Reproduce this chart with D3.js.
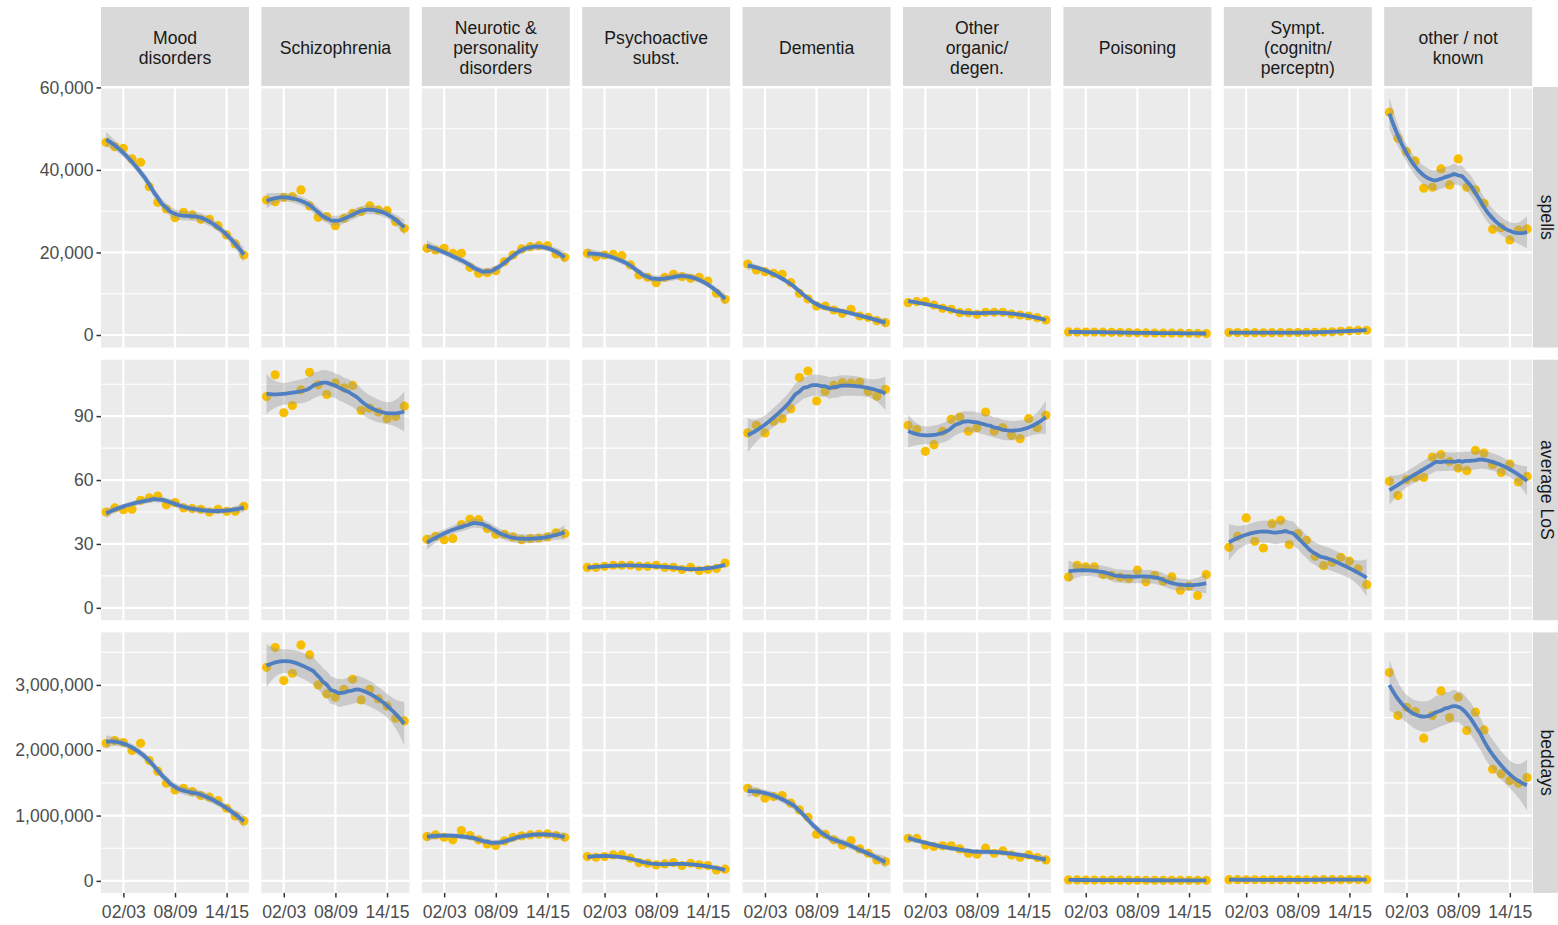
<!DOCTYPE html>
<html>
<head>
<meta charset="utf-8">
<script src="https://cdn.jsdelivr.net/npm/d3@7"></script>
<style>
  body { margin: 0; background: #fff; }
  text { font-family: "Liberation Sans", Arial, sans-serif; }
</style>
</head>
<body>
<div id="chart"></div>
<script>
// Facet grid: diagnosis (columns) x measure (rows), points + loess smooth

var years = ["00/01", "01/02", "02/03", "03/04", "04/05", "05/06", "06/07", "07/08", "08/09",
             "09/10", "10/11", "11/12", "12/13", "13/14", "14/15", "15/16", "16/17"];
var xTickLabels = ["02/03", "08/09", "14/15"];

var diagnoses = ["Mood\ndisorders", "Schizophrenia", "Neurotic &\npersonality\ndisorders",
                 "Psychoactive\nsubst.", "Dementia", "Other\norganic/\ndegen.", "Poisoning",
                 "Sympt.\n(cognitn/\nperceptn)", "other / not\nknown"];
var measures = ["spells", "average LoS", "beddays"];

// one row per diagnosis, in the order above
var spellsData = [
    [46700, 45650, 45250, 42660, 41860, 35950, 32160, 30540, 28440, 29740, 29090, 28040, 28040, 26500, 24240, 22060, 19390],
    [32720, 32310, 33370, 33530, 35150, 31270, 28520, 28680, 26500, 28280, 29500, 29900, 31270, 30300, 30130, 27470, 25860],
    [21010, 20600, 21010, 19800, 19800, 16400, 14950, 15100, 15590, 17770, 19390, 20850, 21400, 21650, 21650, 19630, 18830],
    [19800, 18990, 19390, 19560, 19230, 16970, 14540, 13980, 12680, 13980, 14710, 14130, 13740, 13980, 13090, 10100, 8650],
    [17210, 15760, 15350, 14950, 14710, 12680, 10100, 8730, 7030, 7030, 6060, 5250, 6230, 4600, 4290, 3470, 2980],
    [7830, 8070, 8070, 7270, 6470, 6230, 5410, 5410, 5010, 5500, 5500, 5500, 5090, 4850, 4600, 4200, 3640],
    [750, 720, 700, 700, 680, 650, 600, 560, 520, 500, 480, 470, 450, 430, 400, 380, 350],
    [600, 580, 560, 560, 550, 560, 570, 580, 600, 620, 650, 700, 780, 900, 1000, 1100, 1150],
    [53980, 47660, 44430, 42180, 35560, 35800, 40240, 36360, 42660, 35800, 35150, 31920, 25620, 26010, 23030, 25450, 25700]
];
var losData = [
    [45.0, 46.9, 46.1, 46.25, 50.5, 51.6, 52.5, 48.4, 49.4, 46.9, 46.6, 46.25, 45.0, 46.25, 45.3, 45.3, 47.7],
    [99.2, 109.4, 91.6, 95.0, 102.3, 110.6, 104.7, 100.2, 105.6, 103.3, 104.4, 92.7, 93.8, 91.9, 88.8, 89.8, 94.7],
    [32.2, 33.6, 32.0, 32.5, 39.1, 41.6, 41.4, 37.2, 34.5, 34.5, 33.3, 32.0, 32.5, 32.8, 33.3, 35.2, 34.8],
    [19.0, 19.0, 19.5, 20.0, 20.0, 20.0, 19.5, 19.5, 20.0, 19.0, 19.0, 18.0, 19.0, 17.5, 18.0, 18.5, 21.0],
    [82.1, 85.7, 82.1, 87.6, 88.8, 93.5, 108.1, 111.2, 97.1, 101.6, 104.4, 105.7, 105.5, 106.0, 101.6, 99.4, 102.6],
    [85.7, 83.7, 73.5, 76.6, 82.9, 88.5, 89.6, 82.9, 84.6, 91.9, 83.0, 84.6, 81.0, 79.4, 88.8, 84.6, 90.4],
    [14.5, 20.0, 19.2, 19.2, 15.6, 15.2, 14.4, 13.75, 17.7, 12.2, 15.3, 12.5, 14.5, 8.3, 10.2, 5.8, 15.6],
    [28.4, 33.6, 42.2, 31.25, 28.1, 39.5, 41.1, 29.7, 34.8, 31.7, 24.2, 19.8, 21.4, 23.75, 21.9, 18.3, 10.9],
    [59.4, 52.7, 60.2, 61.25, 61.25, 70.8, 71.9, 68.75, 65.6, 64.4, 73.9, 72.7, 67.2, 63.6, 67.5, 59.1, 61.7]
];
var beddaysData = [
    [2107000, 2148000, 2117000, 1995000, 2107000, 1842000, 1679000, 1495000, 1393000, 1418000, 1367000, 1306000, 1281000, 1230000, 1112000, 995000, 918000],
    [3270000, 3571000, 3066000, 3179000, 3612000, 3459000, 3000000, 2862000, 2811000, 2934000, 3087000, 2770000, 2934000, 2786000, 2679000, 2490000, 2449000],
    [679000, 704000, 668000, 628000, 770000, 694000, 628000, 566000, 541000, 612000, 668000, 689000, 704000, 714000, 719000, 694000, 668000],
    [372000, 362000, 372000, 398000, 398000, 347000, 281000, 270000, 245000, 260000, 281000, 235000, 270000, 245000, 235000, 168000, 179000],
    [1418000, 1352000, 1265000, 1291000, 1306000, 1189000, 1087000, 974000, 714000, 714000, 628000, 551000, 617000, 490000, 423000, 321000, 296000],
    [653000, 653000, 551000, 526000, 536000, 536000, 490000, 423000, 408000, 500000, 423000, 459000, 398000, 362000, 398000, 357000, 321000],
    [14000, 14000, 13000, 13000, 12000, 12000, 11000, 11000, 10000, 10000, 10000, 9000, 9000, 9000, 8000, 8000, 8000],
    [18000, 18000, 17000, 17000, 17000, 16000, 16000, 16000, 16000, 17000, 17000, 18000, 18000, 19000, 20000, 20000, 19000],
    [3189000, 2531000, 2658000, 2592000, 2184000, 2531000, 2908000, 2500000, 2811000, 2301000, 2582000, 2311000, 1709000, 1638000, 1536000, 1495000, 1582000]
];

var spellsTicks = [0, 20000, 40000, 60000];
var losTicks = [0, 30, 60, 90];
var beddaysTicks = [0, 1000000, 2000000, 3000000];

var rowData = [spellsData, losData, beddaysData];
var rowTicks = [spellsTicks, losTicks, beddaysTicks];
var rowDomains = [[-3030, 60100], [-5.8, 116.5], [-184000, 3804000]];

// ---- loess (degree 2, tricube, span .75) with pointwise 95% band ----
function loessRow(xs, x0, span) {
    var n = xs.length, q = Math.floor(n * span);
    var d = xs.map(function (x) { return Math.abs(x - x0); });
    var h = d.slice().sort(function (a, b) { return a - b; })[q - 1];
    var w = d.map(function (di) { var u = di / h; return u < 1 ? Math.pow(1 - u * u * u, 3) : 0; });
    var M = [[0, 0, 0], [0, 0, 0], [0, 0, 0]];
    var V = xs.map(function (x) { var t = x - x0; return [1, t, t * t]; });
    for (var i = 0; i < n; i++)
        for (var a = 0; a < 3; a++)
            for (var b = 0; b < 3; b++)
                M[a][b] += w[i] * V[i][a] * V[i][b];
    var inv = invert3(M);
    return V.map(function (v, i) {
        return w[i] * (inv[0][0] * v[0] + inv[0][1] * v[1] + inv[0][2] * v[2]);
    });
}

function invert3(m) {
    var a = m[0][0], b = m[0][1], c = m[0][2], d = m[1][0], e = m[1][1], f = m[1][2],
        g = m[2][0], h = m[2][1], k = m[2][2];
    var A = e * k - f * h, B = -(d * k - f * g), C = d * h - e * g;
    var det = a * A + b * B + c * C;
    return [
        [A / det, -(b * k - c * h) / det, (b * f - c * e) / det],
        [B / det, (a * k - c * g) / det, -(a * f - c * d) / det],
        [C / det, -(a * h - b * g) / det, (a * e - b * d) / det]
    ];
}

function tQuantile(df) {
    var z = 1.959964;
    return z + (z * z * z + z) / (4 * df) + (5 * Math.pow(z, 5) + 16 * z * z * z + 3 * z) / (96 * df * df);
}

function smooth(xs, ys, span) {
    var n = xs.length;
    // hat matrix at the data, for residual scale
    var L = xs.map(function (x) { return loessRow(xs, x, span); });
    var A = L.map(function (row, i) { return row.map(function (v, j) { return (i == j ? 1 : 0) - v; }); });
    var rss = 0;
    for (var i = 0; i < n; i++) {
        var r = 0;
        for (var j = 0; j < n; j++) r += A[i][j] * ys[j];
        rss += r * r;
    }
    var B = [];
    var d1 = 0;
    for (var i = 0; i < n; i++) {
        B.push([]);
        for (var j = 0; j < n; j++) {
            var s = 0;
            for (var k = 0; k < n; k++) s += A[k][i] * A[k][j];
            B[i].push(s);
            if (i == j) d1 += s;
        }
    }
    var d2 = 0;
    for (var i = 0; i < n; i++) for (var j = 0; j < n; j++) d2 += B[i][j] * B[i][j];
    var sigma = Math.sqrt(rss / d1);
    var tq = tQuantile(d1 * d1 / d2);

    var out = [];
    var lo = xs[0], hi = xs[n - 1];
    for (var m = 0; m < 80; m++) {
        var x0 = lo + (hi - lo) * m / 79;
        var l = loessRow(xs, x0, span);
        var fit = 0, ss = 0;
        for (var i = 0; i < n; i++) { fit += l[i] * ys[i]; ss += l[i] * l[i]; }
        var se = sigma * Math.sqrt(ss);
        out.push({ x: x0, y: fit, lo: fit - tq * se, hi: fit + tq * se });
    }
    return out;
}

// ---- layout ----
var W = 1558, H = 925;
var panelW = 148, panelH = 260.5;
var colX0 = 101, colStep = 160.4;
var rowY0 = 87, rowStep = 272.7;

var svg = d3.select("#chart").append("svg")
    .attr("width", W).attr("height", H);

var xScale = d3.scaleLinear().domain([0.4, 17.6]).range([0, panelW]);
var xIdx = years.map(function (y, i) { return i + 1; });

var line = d3.line()
    .x(function (d) { return xScale(d.x); });
var area = d3.area()
    .x(function (d) { return xScale(d.x); });

for (var r = 0; r < 3; r++) {
    var yScale = d3.scaleLinear().domain(rowDomains[r]).range([panelH, 0]);
    var ticks = rowTicks[r];
    var step = ticks[1] - ticks[0];
    var minors = ticks.map(function (t) { return t + step / 2; })
        .filter(function (t) { return t > rowDomains[r][0] && t < rowDomains[r][1]; });
    line.y(function (d) { return yScale(d.y); });
    area.y0(function (d) { return yScale(d.lo); }).y1(function (d) { return yScale(d.hi); });

    for (var c = 0; c < 9; c++) {
        var px = colX0 + c * colStep, py = rowY0 + r * rowStep;
        var g = svg.append("g").attr("transform", "translate(" + px + "," + py + ")");
        var clipId = "clip" + r + "_" + c;
        g.append("clipPath").attr("id", clipId)
            .append("rect").attr("width", panelW).attr("height", panelH);

        g.append("rect").attr("width", panelW).attr("height", panelH).attr("fill", "#EBEBEB");

        g.selectAll(".minor").data(minors).enter().append("line")
            .attr("x1", 0).attr("x2", panelW)
            .attr("y1", yScale).attr("y2", yScale)
            .attr("stroke", "#fff").attr("stroke-width", 1.1);
        g.selectAll(".major").data(ticks).enter().append("line")
            .attr("x1", 0).attr("x2", panelW)
            .attr("y1", yScale).attr("y2", yScale)
            .attr("stroke", "#fff").attr("stroke-width", 2.2);
        g.selectAll(".vmajor").data(xTickLabels).enter().append("line")
            .attr("x1", function (d) { return xScale(years.indexOf(d) + 1); })
            .attr("x2", function (d) { return xScale(years.indexOf(d) + 1); })
            .attr("y1", 0).attr("y2", panelH)
            .attr("stroke", "#fff").attr("stroke-width", 2.2);

        var ys = rowData[r][c];
        var pts = ys.map(function (v, i) { return { x: xIdx[i], y: v }; });
        var sm = smooth(xIdx, ys, 0.75);

        var inner = g.append("g").attr("clip-path", "url(#" + clipId + ")");
        inner.selectAll("circle").data(pts).enter().append("circle")
            .attr("cx", function (d) { return xScale(d.x); })
            .attr("cy", function (d) { return yScale(d.y); })
            .attr("r", 4.6)
            .attr("fill", "#F7BE00");
        inner.append("path").datum(sm)
            .attr("d", area)
            .attr("fill", "#999999").attr("fill-opacity", 0.4);
        inner.append("path").datum(sm)
            .attr("d", line)
            .attr("fill", "none")
            .attr("stroke", "#4F7FC0").attr("stroke-width", 3.8);

        // y axis on first column
        if (c == 0) {
            var yAxis = d3.axisLeft(yScale).tickValues(ticks)
                .tickFormat(d3.format(",")).tickSize(4.5).tickPadding(3);
            var ag = g.append("g").call(yAxis);
            ag.select(".domain").remove();
            ag.selectAll(".tick line").attr("stroke", "#333333").attr("stroke-width", 1.5);
            ag.selectAll(".tick text").attr("fill", "#4D4D4D")
                .style("font-size", "17.6px").style("font-family", "'Liberation Sans', Arial, sans-serif");
        }
        // x axis on last row
        if (r == 2) {
            var xAxis = d3.axisBottom(xScale)
                .tickValues(xTickLabels.map(function (d) { return years.indexOf(d) + 1; }))
                .tickFormat(function (d) { return years[d - 1]; })
                .tickSize(4.5).tickPadding(8);
            var bg = g.append("g").attr("transform", "translate(0," + panelH + ")").call(xAxis);
            bg.select(".domain").remove();
            bg.selectAll(".tick line").attr("stroke", "#333333").attr("stroke-width", 1.5);
            bg.selectAll(".tick text").attr("fill", "#4D4D4D")
                .style("font-size", "17.6px").style("font-family", "'Liberation Sans', Arial, sans-serif");
        }
    }

    // right strip
    var sy = rowY0 + r * rowStep;
    svg.append("rect").attr("x", 1533).attr("y", sy).attr("width", 34).attr("height", panelH)
        .attr("fill", "#D9D9D9");
    svg.append("text")
        .attr("transform", "translate(1547.5," + (sy + panelH / 2) + ") rotate(90)")
        .attr("text-anchor", "middle").attr("dy", "0.35em")
        .attr("fill", "#1A1A1A").style("font-size", "17.6px")
        .text(measures[r]);
}

// top strips
diagnoses.forEach(function (lab, c) {
    var px = colX0 + c * colStep;
    svg.append("rect").attr("x", px).attr("y", 7).attr("width", panelW).attr("height", 79)
        .attr("fill", "#D9D9D9");
    var lines = lab.split("\n");
    var t = svg.append("text").attr("text-anchor", "middle").attr("fill", "#1A1A1A")
        .style("font-size", "17.6px");
    lines.forEach(function (s, k) {
        t.append("tspan").attr("x", px + panelW / 2)
            .attr("y", 47.5 + (k - (lines.length - 1) / 2) * 20)
            .attr("dy", "0.35em")
            .text(s);
    });
});
</script>
</body>
</html>
